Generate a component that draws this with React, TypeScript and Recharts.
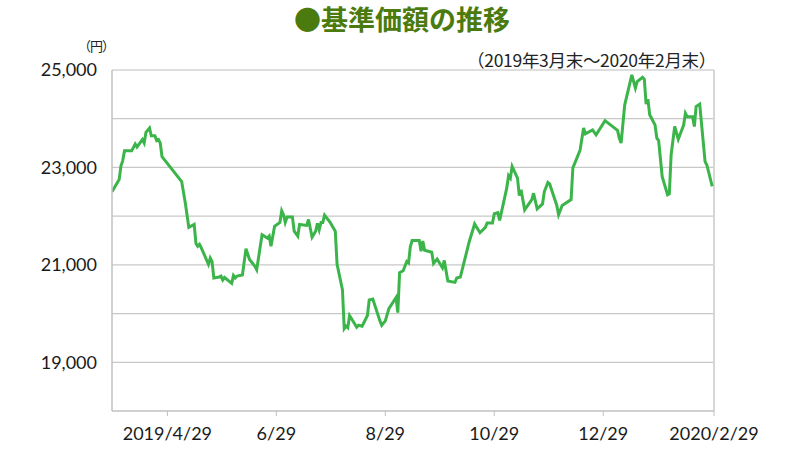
import React from 'react';
import { LineChart, Line, XAxis, YAxis, ReferenceLine } from 'recharts';

const dates: string[] = [
  '2019-03-29','2019-04-02','2019-04-03','2019-04-04','2019-04-05','2019-04-09','2019-04-11','2019-04-12',
  '2019-04-15','2019-04-16','2019-04-17','2019-04-19','2019-04-20','2019-04-22','2019-04-23','2019-04-24',
  '2019-04-25','2019-04-26','2019-05-07','2019-05-09','2019-05-11','2019-05-14','2019-05-15','2019-05-16',
  '2019-05-17','2019-05-18','2019-05-22','2019-05-23','2019-05-24','2019-05-25','2019-05-28','2019-05-29',
  '2019-05-30','2019-05-31','2019-06-04','2019-06-05','2019-06-06','2019-06-07','2019-06-10','2019-06-12',
  '2019-06-14','2019-06-17','2019-06-18','2019-06-21','2019-06-24','2019-06-25','2019-06-26','2019-06-28',
  '2019-07-01','2019-07-02','2019-07-03','2019-07-04','2019-07-05','2019-07-08','2019-07-09','2019-07-11',
  '2019-07-12','2019-07-16','2019-07-17','2019-07-19','2019-07-21','2019-07-22','2019-07-23','2019-07-24',
  '2019-07-25','2019-07-26','2019-07-29','2019-08-01','2019-08-02','2019-08-05','2019-08-06','2019-08-07',
  '2019-08-08','2019-08-09','2019-08-13','2019-08-14','2019-08-16','2019-08-19','2019-08-20','2019-08-22',
  '2019-08-26','2019-08-27','2019-08-29','2019-08-31','2019-09-04','2019-09-05','2019-09-06','2019-09-08',
  '2019-09-10','2019-09-11','2019-09-12','2019-09-13','2019-09-17','2019-09-18','2019-09-19','2019-09-20',
  '2019-09-24','2019-09-25','2019-09-27','2019-09-30','2019-10-01','2019-10-03','2019-10-07','2019-10-08',
  '2019-10-10','2019-10-12','2019-10-15','2019-10-18','2019-10-21','2019-10-24','2019-10-25','2019-10-28',
  '2019-10-29','2019-10-31','2019-11-01','2019-11-05','2019-11-06','2019-11-07','2019-11-08','2019-11-11',
  '2019-11-12','2019-11-13','2019-11-15','2019-11-19','2019-11-20','2019-11-22','2019-11-25','2019-11-26',
  '2019-11-28','2019-11-29','2019-12-03','2019-12-04','2019-12-06','2019-12-11','2019-12-12','2019-12-16',
  '2019-12-18','2019-12-19','2019-12-23','2019-12-25','2019-12-30','2020-01-06','2020-01-07','2020-01-08',
  '2020-01-10','2020-01-14','2020-01-16','2020-01-17','2020-01-20','2020-01-21','2020-01-22','2020-01-23',
  '2020-01-24','2020-01-27','2020-01-28','2020-01-29','2020-01-31','2020-02-03','2020-02-04','2020-02-05',
  '2020-02-07','2020-02-09','2020-02-12','2020-02-13','2020-02-14','2020-02-17','2020-02-18','2020-02-19',
  '2020-02-21','2020-02-24','2020-02-25','2020-02-28',
];

const navValues: number[] = [
  22500, 22750, 23030, 23140, 23340, 23340, 23480, 23420,
  23570, 23500, 23720, 23810, 23650, 23650, 23550, 23570,
  23500, 23220, 22710, 22280, 21770, 21830, 21440, 21380,
  21420, 21350, 21010, 21140, 21070, 20730, 20750, 20770,
  20690, 20740, 20620, 20780, 20730, 20770, 20790, 21330,
  21110, 20970, 20900, 21620, 21550, 21590, 21380, 21790,
  21870, 22110, 22030, 21870, 21980, 21980, 21690, 21590,
  21830, 21810, 21930, 21570, 21690, 21850, 21720, 21870,
  21870, 22020, 21880, 21690, 21010, 20490, 19690, 19740,
  19710, 19960, 19720, 19760, 19740, 19960, 20280, 20300,
  19850, 19760, 19850, 20100, 20330, 20020, 20840, 20880,
  21070, 21040, 21370, 21500, 21500, 21280, 21490, 21300,
  21260, 21030, 21120, 20940, 21090, 20670, 20640, 20730,
  20750, 21040, 21480, 21840, 21660, 21770, 21860, 21860,
  22050, 22070, 21910, 22580, 22830, 22780, 23020, 22780,
  22420, 22540, 22130, 22340, 22470, 22150, 22250, 22500,
  22690, 22660, 22220, 22030, 22220, 22340, 22990, 23350,
  23810, 23690, 23770, 23670, 23960, 23760, 23600, 23500,
  24280, 24900, 24630, 24760, 24850, 24810, 24300, 24400,
  24080, 23870, 23600, 23550, 22810, 22440, 22460, 23260,
  23840, 23580, 23870, 24110, 24040, 24040, 23840, 24250,
  24300, 23120, 23050, 22610,
];

const xTickDates: string[] = ['2019-04-29', '2019-06-29', '2019-08-29', '2019-10-29', '2019-12-29', '2020-02-29'];
const xTickLabels: string[] = ['2019/4/29', '6/29', '8/29', '10/29', '12/29', '2020/2/29'];
const yGridValues: number[] = [18000, 19000, 20000, 21000, 22000, 23000, 24000, 25000];
const yLabelValues: number[] = [19000, 21000, 23000, 25000];

const startDate = '2019-03-29';
const endDate = '2020-02-29';

const toTime = (s: string) => Date.parse(s + 'T00:00:00Z');

const data = dates.map((d, i) => ({ t: toTime(d), nav: navValues[i] }));
const xTicks = xTickDates.map(toTime);

const FONT = 'Lato, "Noto Sans CJK JP", sans-serif';

export default function App() {
  return (
    <div style={{ position: 'absolute', left: 0, top: 0, width: 800, height: 450, background: '#fff', fontFamily: FONT }}>
      <div
        style={{
          position: 'absolute', left: 0, top: 2, width: 804, textAlign: 'center',
          fontFamily: '"Noto Sans CJK JP", sans-serif', fontWeight: 700, fontSize: 27, lineHeight: '34px',
          color: '#4b7b0e',
        }}
      >
        ●基準価額の推移
      </div>
      <div
        style={{
          position: 'absolute', left: 78, top: 37, fontFamily: '"Noto Sans CJK JP", sans-serif',
          fontSize: 13, lineHeight: '18px', color: '#222', letterSpacing: -1,
        }}
      >
        （円）
      </div>
      <div
        style={{
          position: 'absolute', right: 84, top: 48, fontFamily: '"Noto Sans CJK JP", sans-serif',
          fontSize: 17.5, lineHeight: '24px', color: '#222', letterSpacing: -0.3,
        }}
      >
        （2019年3月末～2020年2月末）
      </div>
      <LineChart
        width={800}
        height={450}
        data={data}
        margin={{ top: 70, right: 86, bottom: 0, left: 32 }}
      >
        {yGridValues.slice(1).map((v) => (
          <ReferenceLine
            key={v}
            y={v}
            stroke={v === 25000 ? '#dedede' : '#c8c8c8'}
            strokeWidth={v === 25000 ? 2 : 1.2}
            ifOverflow="extendDomain"
          />
        ))}
        <ReferenceLine x={toTime(endDate)} stroke="#d6d6d6" strokeWidth={2} />
        <XAxis
          dataKey="t"
          type="number"
          scale="time"
          domain={[toTime(startDate), toTime(endDate)]}
          ticks={xTicks}
          tickFormatter={(v: number) => xTickLabels[xTicks.indexOf(v)] ?? ''}
          height={39}
          axisLine={{ stroke: '#c0c0c0', strokeWidth: 1.5 }}
          tickLine={{ stroke: '#c0c0c0' }}
          tickSize={5}
          tickMargin={11}
          tick={{ fill: '#1a1a1a', fontSize: 18, fontFamily: FONT }}
          allowDataOverflow
          interval={0}
        />
        <YAxis
          type="number"
          domain={[18000, 25000]}
          ticks={yGridValues}
          tickFormatter={(v: number) => (yLabelValues.includes(v) ? v.toLocaleString('en-US') : '')}
          width={80}
          axisLine={{ stroke: '#c0c0c0', strokeWidth: 1.5 }}
          tickLine={false}
          tickSize={0}
          tickMargin={15}
          tick={{ fill: '#1a1a1a', fontSize: 18, fontFamily: FONT }}
          interval={0}
        />
        <Line
          type="linear"
          dataKey="nav"
          stroke="#3bb54a"
          strokeWidth={3}
          dot={false}
          activeDot={false}
          isAnimationActive={false}
        />
      </LineChart>
    </div>
  );
}
